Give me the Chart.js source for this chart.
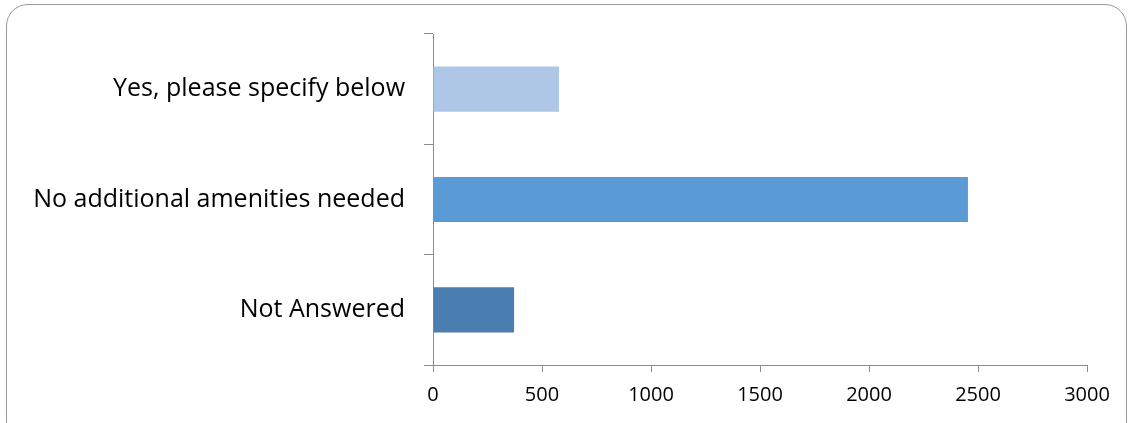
<!DOCTYPE html>
<html>
<head>
<meta charset="utf-8">
<script src="https://cdn.jsdelivr.net/npm/chart.js@4.4.1/dist/chart.umd.min.js"></script>
<style>
  html, body { margin: 0; padding: 0; background: #fff; overflow: hidden; }
  #wrap { position: relative; width: 1133px; height: 423px; }
  #frame {
    position: absolute; left: 6px; top: 4px; width: 1121px; height: 440px;
    border: 1.5px solid #9a9a9a; border-radius: 22px; box-sizing: border-box;
  }
  canvas { position: absolute; left: 0; top: 0; }
</style>
</head>
<body>
<div id="wrap">
  <div id="frame"></div>
  <canvas id="chart" width="1133" height="423"></canvas>
</div>
<script>
// survey answers, top to bottom
const categories = ['Yes, please specify below', 'No additional amenities needed', 'Not Answered'];
const responses = [578, 2454, 372];
const barColors = ['#AEC7E6', '#5B9BD5', '#4A7EB1'];
const axisMax = 3000;
const axisStep = 500;

const axisGray = '#8c8c8c';

new Chart(document.getElementById('chart').getContext('2d'), {
  type: 'bar',
  data: {
    labels: categories,
    datasets: [{
      data: responses,
      backgroundColor: barColors,
      categoryPercentage: 1,
      barPercentage: 0.41
    }]
  },
  options: {
    indexAxis: 'y',
    responsive: false,
    animation: false,
    layout: { padding: { top: 33, right: 46, bottom: 0, left: 0 } },
    plugins: { legend: { display: false }, tooltip: { enabled: false } },
    scales: {
      y: {
        afterFit: s => { s.width = 433; },
        grid: { drawOnChartArea: false, offset: true, tickLength: 9, color: axisGray },
        border: { color: axisGray, width: 1 },
        ticks: { color: '#000', padding: 19, font: { family: 'Open Sans', size: 25 } }
      },
      x: {
        min: 0,
        max: axisMax,
        afterFit: s => { s.height = 58; },
        grid: { drawOnChartArea: false, tickLength: 7, color: axisGray },
        border: { color: axisGray, width: 1 },
        ticks: {
          stepSize: axisStep, color: '#000', padding: 11,
          font: { family: 'Open Sans', size: 20 },
          callback: v => String(v)
        }
      }
    }
  }
});
</script>
</body>
</html>
